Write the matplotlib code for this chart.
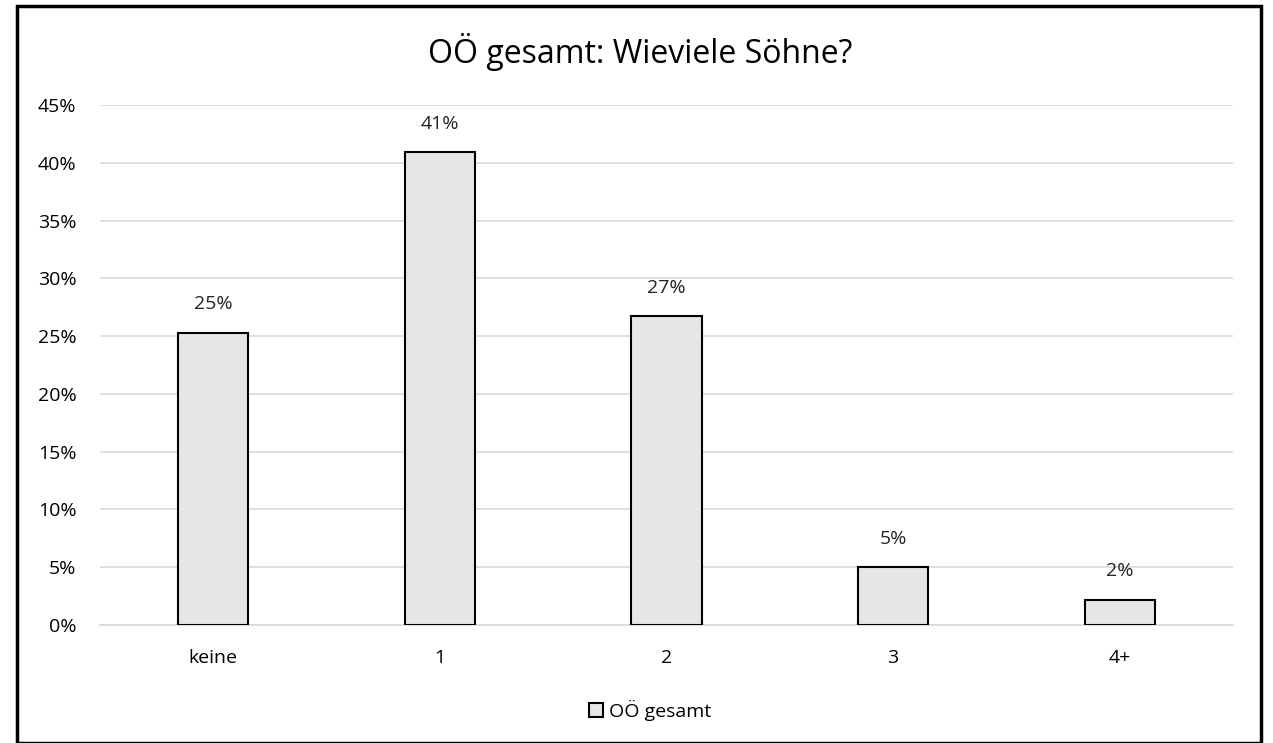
import matplotlib.pyplot as plt
from matplotlib.patches import Rectangle, Patch

plt.rcParams['font.family'] = ['Open Sans', 'DejaVu Sans']

# Daten
categories = ['keine', '1', '2', '3', '4+']
values = [25.3, 40.9, 26.7, 5.0, 2.2]
labels = ['25%', '41%', '27%', '5%', '2%']
yticks = [0, 5, 10, 15, 20, 25, 30, 35, 40, 45]

fig = plt.figure(figsize=(12.73, 7.43), dpi=100)
ax = fig.add_axes([100 / 1273, 1 - 625 / 743, 1133 / 1273, 520 / 743])

x = range(len(categories))
bars = ax.bar(x, values, width=0.31, color='#E7E6E6', edgecolor='black', linewidth=1.5, zorder=3)

for xi, v, lab in zip(x, values, labels):
    ax.text(xi, v + 2.45, lab, ha='center', va='center', fontsize=14, color='#222222')

ax.set_xlim(-0.5, len(categories) - 0.5)
ax.set_ylim(0, 45)
ax.set_yticks(yticks)
ax.set_yticklabels([f'{t}%' for t in yticks], fontsize=14)
ax.set_xticks(list(x))
ax.set_xticklabels(categories, fontsize=14)
ax.tick_params(length=0)
ax.tick_params(axis='x', pad=17)
ax.tick_params(axis='y', pad=17)
ax.yaxis.grid(True, color='#D9D9D9', linewidth=1.2, zorder=0)
for s in ['top', 'right', 'left']:
    ax.spines[s].set_visible(False)
ax.spines['bottom'].set_color('#D9D9D9')
ax.spines['bottom'].set_linewidth(1.2)

fig.text(640 / 1273, 1 - 52 / 743, 'OÖ gesamt: Wieviele Söhne?', ha='center', va='center', fontsize=23)

handle = Patch(facecolor='#E7E6E6', edgecolor='black', linewidth=1.5)
fig.legend([handle], ['OÖ gesamt'], loc='center', bbox_to_anchor=(650 / 1273, 1 - 710 / 743),
           frameon=False, fontsize=14, handlelength=0.75, handleheight=0.75, handletextpad=0.3)

fig.patches.append(Rectangle((17 / 1273, 0), 1244 / 1273, 1 - 6 / 743, transform=fig.transFigure,
                             fill=False, edgecolor='black', linewidth=2.5, zorder=10))

fig.savefig('out.png', dpi=100)
